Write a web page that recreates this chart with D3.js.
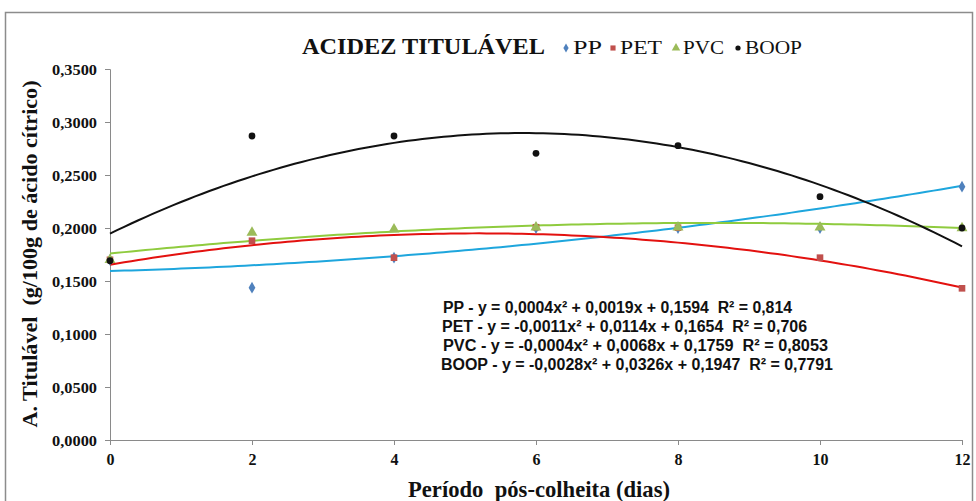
<!DOCTYPE html>
<html><head><meta charset="utf-8">
<script src="https://cdn.jsdelivr.net/npm/d3@7"></script>
<style>body{margin:0;background:#fff}svg{display:block}text{white-space:pre}</style>
</head><body>
<svg id="c" width="976" height="501"></svg>
<script>
const days = [0, 2, 4, 6, 8, 10, 12];
const seriesNames = ["PP", "PET", "PVC", "BOOP"];
const ppValues   = [0.170, 0.1437, 0.172, 0.200, 0.200, 0.200, 0.239];
const petValues  = [0.170, 0.188, 0.172, 0.2007, 0.2003, 0.172, 0.1431];
const pvcValues  = [0.170, 0.1956, 0.1988, 0.2007, 0.2007, 0.2007, 0.200];
const boopValues = [0.1691, 0.2868, 0.2868, 0.2705, 0.2777, 0.2295, 0.200];
// printed trendline coefficients [a, b, c] for y = a x^2 + b x + c
const ppCoef   = [0.0004, 0.0019, 0.1594];
const petCoef  = [-0.0011, 0.0114, 0.1654];
const pvcCoef  = [-0.0004, 0.0068, 0.1759];
const boopCoef = [-0.0028, 0.0326, 0.1947];
const equations = [
  "PP - y = 0,0004x² + 0,0019x + 0,1594  R² = 0,814",
  "PET - y = -0,0011x² + 0,0114x + 0,1654  R² = 0,706",
  "PVC - y = -0,0004x² + 0,0068x + 0,1759  R² = 0,8053",
  "BOOP - y = -0,0028x² + 0,0326x + 0,1947  R² = 0,7791"
];
const yTicks = [0, 0.05, 0.1, 0.15, 0.2, 0.25, 0.3, 0.35];
const xTicks = [0, 2, 4, 6, 8, 10, 12];

const svg = d3.select("#c");
const x = d3.scaleLinear().domain([0, 12]).range([110, 962]);
const y = d3.scaleLinear().domain([0, 0.35]).range([440, 69]);
const serif = "'Liberation Serif','Times New Roman',serif";
const sans = "'Liberation Sans','Open Sans',Arial,sans-serif";

// outer frame
svg.append("rect").attr("x", 5.5).attr("y", 12.5).attr("width", 967).attr("height", 500)
  .attr("fill", "none").attr("stroke", "#8c8c8c").attr("stroke-width", 1.5);

// axes
const fmt = d => d3.format(".4f")(d).replace(".", ",");
const yAxis = svg.append("g").attr("transform", "translate(110,0)")
  .call(d3.axisLeft(y).tickValues(yTicks).tickSize(5).tickFormat(fmt));
yAxis.selectAll("path,line").attr("stroke", "#8a8a8a");
yAxis.selectAll("text").attr("font-family", serif).attr("font-weight", "bold")
  .attr("font-size", 15).attr("fill", "#111").attr("x", -13).attr("dy", "0.35em")
  .attr("textLength", 45).attr("lengthAdjust", "spacingAndGlyphs");

const xAxis = svg.append("g").attr("transform", "translate(0,440)")
  .call(d3.axisBottom(x).tickValues(xTicks).tickSize(5).tickFormat(d => d));
xAxis.selectAll("path,line").attr("stroke", "#8a8a8a");
xAxis.selectAll("text").attr("font-family", serif).attr("font-weight", "bold")
  .attr("font-size", 16).attr("fill", "#111").attr("y", 14).attr("dy", "0.71em");

// axis titles
svg.append("text").attr("transform", "translate(37,254) rotate(-90)")
  .attr("text-anchor", "middle").attr("font-family", serif).attr("font-weight", "bold")
  .attr("font-size", 22).attr("fill", "#111")
  .attr("textLength", 347).attr("lengthAdjust", "spacingAndGlyphs")
  .text("A. Titulável  (g/100g de ácido cítrico)");
svg.append("text").attr("x", 539).attr("y", 497)
  .attr("text-anchor", "middle").attr("font-family", serif).attr("font-weight", "bold")
  .attr("font-size", 23).attr("fill", "#111")
  .attr("textLength", 262).attr("lengthAdjust", "spacingAndGlyphs")
  .text("Período  pós-colheita (dias)");

// title + legend
svg.append("text").attr("x", 302).attr("y", 54).attr("font-family", serif).attr("font-weight", "bold")
  .attr("font-size", 23).attr("fill", "#111")
  .attr("textLength", 243).attr("lengthAdjust", "spacingAndGlyphs")
  .text("ACIDEZ TITULÁVEL");

const markerColors = ["#4F81BD", "#C0504D", "#9BBB59", "#111111"];
const lineColors = ["#1EA6DD", "#E3110F", "#8FCB3E", "#111111"];
const symbols = [d3.symbolDiamond, d3.symbolSquare, d3.symbolTriangle, d3.symbolCircle];
const symSizes = [40, 44, 52, 36];
const legendItems = [
  {mx: 566, tx: 573, tl: 29},
  {mx: 613, tx: 620, tl: 42},
  {mx: 676, tx: 683, tl: 41},
  {mx: 738, tx: 745, tl: 57}
];
seriesNames.forEach((n, i) => {
  const it = legendItems[i];
  svg.append("path").attr("d", d3.symbol(symbols[i], symSizes[i] * 0.6)())
    .attr("transform", `translate(${it.mx},48)`).attr("fill", markerColors[i]);
  svg.append("text").attr("x", it.tx).attr("y", 54).attr("font-family", serif)
    .attr("font-size", 18).attr("fill", "#111")
    .attr("textLength", it.tl).attr("lengthAdjust", "spacingAndGlyphs").text(n);
});

// trendlines
const coefs = [ppCoef, petCoef, pvcCoef, boopCoef];
const xs = d3.range(0, 12.001, 0.1);
const line = d3.line().x(d => x(d[0])).y(d => y(d[1]));
coefs.forEach((c, i) => {
  svg.append("path").datum(xs.map(t => [t, c[0]*t*t + c[1]*t + c[2]]))
    .attr("d", line).attr("fill", "none").attr("stroke", lineColors[i]).attr("stroke-width", 2);
});

// points
const allValues = [ppValues, petValues, pvcValues, boopValues];
allValues.forEach((vals, i) => {
  svg.append("g").selectAll("path").data(vals).join("path")
    .attr("d", d3.symbol(symbols[i], symSizes[i])())
    .attr("transform", (v, j) => `translate(${x(days[j])},${y(v)})`)
    .attr("fill", markerColors[i]);
});

// equations
const eqX = [443, 442, 443, 441];
const eqLen = [349, 365, 385, 392];
equations.forEach((e, i) => {
  svg.append("text").attr("x", eqX[i]).attr("y", 313 + i * 19)
    .attr("font-family", sans).attr("font-weight", "bold").attr("font-size", 16).attr("fill", "#111")
    .attr("textLength", eqLen[i]).attr("lengthAdjust", "spacingAndGlyphs").text(e);
});
</script>
</body></html>
